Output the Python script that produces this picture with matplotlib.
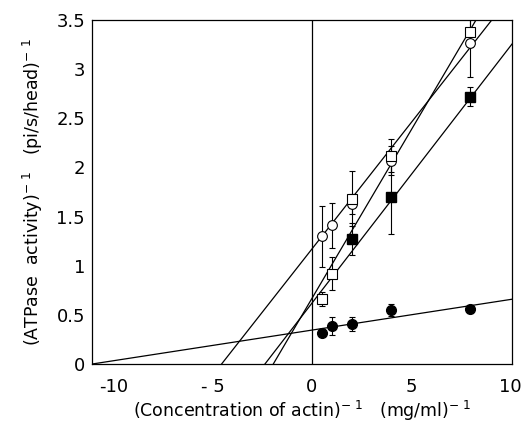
import matplotlib
matplotlib.use('Agg')
import matplotlib.pyplot as plt
import numpy as np

# inverse actin concentration (mg/ml)^-1
x_conc = [0.5, 1, 2, 4, 8]

# inverse ATPase activity for each series
filled_circle = [0.32, 0.39, 0.41, 0.55, 0.56]
filled_circle_err = [0.03, 0.09, 0.07, 0.06, 0.04]

open_circle = [1.30, 1.41, 1.63, 2.07, 3.27]
open_circle_err = [0.31, 0.23, 0.10, 0.15, 0.35]

open_square = [0.66, 0.92, 1.68, 2.12, 3.38]
open_square_err = [0.07, 0.17, 0.28, 0.17, 0.15]

x_fsq = [2, 4, 8]
filled_square = [1.27, 1.70, 2.72]
filled_square_err = [0.16, 0.38, 0.10]

# double-reciprocal fit lines: (slope, intercept)
fits = {
    'filled_circle': (0.0311, 0.345),
    'open_circle': (0.2566, 1.17),
    'open_square': (0.342, 0.667),
    'filled_square': (0.261, 0.619),
}

xticks = [-10, -5, 0, 5, 10]
xtick_labels = ['-10', '- 5', '0', '5', '10']
yticks = [0, 0.5, 1, 1.5, 2, 2.5, 3, 3.5]
ytick_labels = ['0', '0.5', '1', '1.5', '2', '2.5', '3', '3.5']

fig = plt.figure(figsize=(5.31, 4.28), dpi=100)
ax = fig.add_axes([0.1733, 0.1495, 0.7909, 0.8038])

xmin, xmax = -11.1, 10.1
ax.set_xlim(xmin, xmax)
ax.set_ylim(0, 3.5)

# fit lines across the whole plot
xl = np.array([xmin, xmax])
for slope, icpt in fits.values():
    ax.plot(xl, slope * xl + icpt, color='black', lw=0.9)

# vertical axis at x = 0
ax.axvline(0, color='black', lw=0.9)

ebk = dict(fmt='none', ecolor='black', elinewidth=0.8, capsize=2.5, capthick=0.8)
ax.errorbar(x_conc, open_circle, yerr=open_circle_err, **ebk)
ax.errorbar(x_conc, open_square, yerr=open_square_err, **ebk)
ax.errorbar(x_fsq, filled_square, yerr=filled_square_err, **ebk)
ax.errorbar(x_conc, filled_circle, yerr=filled_circle_err, **ebk)

ms = 7
ax.plot(x_conc, open_circle, 'o', mfc='white', mec='black', mew=0.8, ms=ms, ls='none')
ax.plot(x_conc, open_square, 's', mfc='white', mec='black', mew=0.8, ms=ms, ls='none')
ax.plot(x_fsq, filled_square, 's', mfc='black', mec='black', ms=ms, ls='none')
ax.plot(x_conc, filled_circle, 'o', mfc='black', mec='black', ms=ms, ls='none')

ax.set_xticks(xticks)
ax.set_xticklabels(xtick_labels)
ax.set_yticks(yticks)
ax.set_yticklabels(ytick_labels)
ax.tick_params(axis='both', length=0, labelsize=13)
ax.tick_params(axis='x', pad=10)
ax.tick_params(axis='y', pad=5)

for sp in ax.spines.values():
    sp.set_linewidth(0.9)

sup = r'$^{\mathregular{-\ 1}}$'
ax.set_xlabel('(Concentration of actin)' + sup + '   (mg/ml)' + sup,
              fontsize=12.5, labelpad=2)
ax.set_ylabel('(ATPase  activity)' + sup + '   (pi/s/head)' + sup,
              fontsize=12.5, labelpad=8)

plt.savefig('out.png', dpi=100)
